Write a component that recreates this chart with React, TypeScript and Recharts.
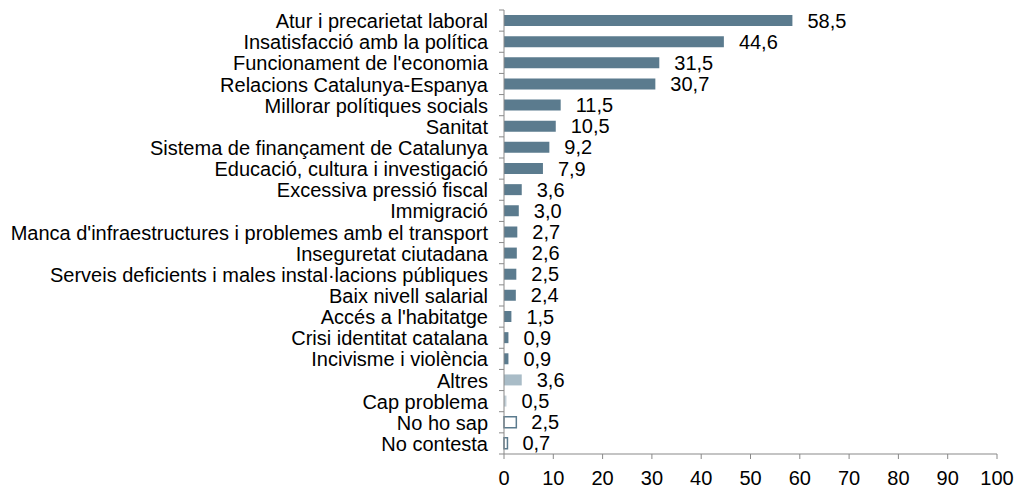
import React from "react";
import { BarChart, Bar, XAxis, YAxis, Cell, LabelList } from "recharts";

const categories = [
  "Atur i precarietat laboral",
  "Insatisfacció amb la política",
  "Funcionament de l'economia",
  "Relacions Catalunya-Espanya",
  "Millorar polítiques socials",
  "Sanitat",
  "Sistema de finançament de Catalunya",
  "Educació, cultura i investigació",
  "Excessiva pressió fiscal",
  "Immigració",
  "Manca d'infraestructures i problemes amb el transport",
  "Inseguretat ciutadana",
  "Serveis deficients i males instal·lacions públiques",
  "Baix nivell salarial",
  "Accés a l'habitatge",
  "Crisi identitat catalana",
  "Incivisme i violència",
  "Altres",
  "Cap problema",
  "No ho sap",
  "No contesta",
];

const values = [58.5, 44.6, 31.5, 30.7, 11.5, 10.5, 9.2, 7.9, 3.6, 3.0, 2.7, 2.6, 2.5, 2.4, 1.5, 0.9, 0.9, 3.6, 0.5, 2.5, 0.7];

const xTicks = [0, 10, 20, 30, 40, 50, 60, 70, 80, 90, 100];

const data = categories.map((name, i) => ({ name, value: values[i] }));

const MAIN = "#5b7b8e";
const fillFor = (name: string) => {
  if (name === "Altres") return "#a9bcc7";
  if (name === "Cap problema") return "#c3d0d8";
  if (name === "No ho sap" || name === "No contesta") return "#ffffff";
  return MAIN;
};
const strokeFor = (name: string) => {
  if (name === "No ho sap" || name === "No contesta") return MAIN;
  return "none";
};

const FONT = "'Liberation Sans', Arial, sans-serif";
const FS = 20;
const AXIS = "#898989";

const TOP = 10;
const BOTTOM = 454;
const BAND = (BOTTOM - TOP) / categories.length;

const CatTick = (props: any) => {
  const { x, y, payload, index } = props;
  const ax = x + 7;
  return (
    <g>
      <line x1={ax - 5} x2={ax} y1={y - BAND / 2} y2={y - BAND / 2} stroke={AXIS} strokeWidth={1} />
      {index === categories.length - 1 && (
        <line x1={ax - 5} x2={ax} y1={y + BAND / 2} y2={y + BAND / 2} stroke={AXIS} strokeWidth={1} />
      )}
      <text x={ax - 16} y={y} dy={7.5} textAnchor="end" fontFamily={FONT} fontSize={FS} fill="#000">
        {payload.value}
      </text>
    </g>
  );
};

const fmt = (v: any) => Number(v).toFixed(1).replace(".", ",");

export default function App() {
  return (
    <div style={{ position: "absolute", left: 0, top: 0 }}>
      <BarChart
        width={1018}
        height={490}
        data={data}
        layout="vertical"
        margin={{ top: TOP, right: 21, bottom: 0, left: 0 }}
        barSize={11}
      >
        <XAxis
          type="number"
          domain={[0, 100]}
          ticks={xTicks}
          interval={0}
          axisLine={{ stroke: AXIS }}
          tickLine={{ stroke: AXIS }}
          tickSize={5}
          tickMargin={12}
          height={36}
          tick={{ fontFamily: FONT, fontSize: FS, fill: "#000" }}
        />
        <YAxis
          type="category"
          dataKey="name"
          width={504}
          interval={0}
          axisLine={{ stroke: AXIS }}
          tickLine={false}
          tickSize={0}
          tickMargin={7}
          tick={<CatTick />}
        />
        <Bar dataKey="value" isAnimationActive={false}>
          {data.map((d) => (
            <Cell key={d.name} fill={fillFor(d.name)} stroke={strokeFor(d.name)} strokeWidth={strokeFor(d.name) === "none" ? 0 : 1.5} />
          ))}
          <LabelList
            dataKey="value"
            position="right"
            offset={15}
            formatter={fmt}
            style={{ fontFamily: FONT, fontSize: FS, fill: "#000" }}
          />
        </Bar>
      </BarChart>
    </div>
  );
}
